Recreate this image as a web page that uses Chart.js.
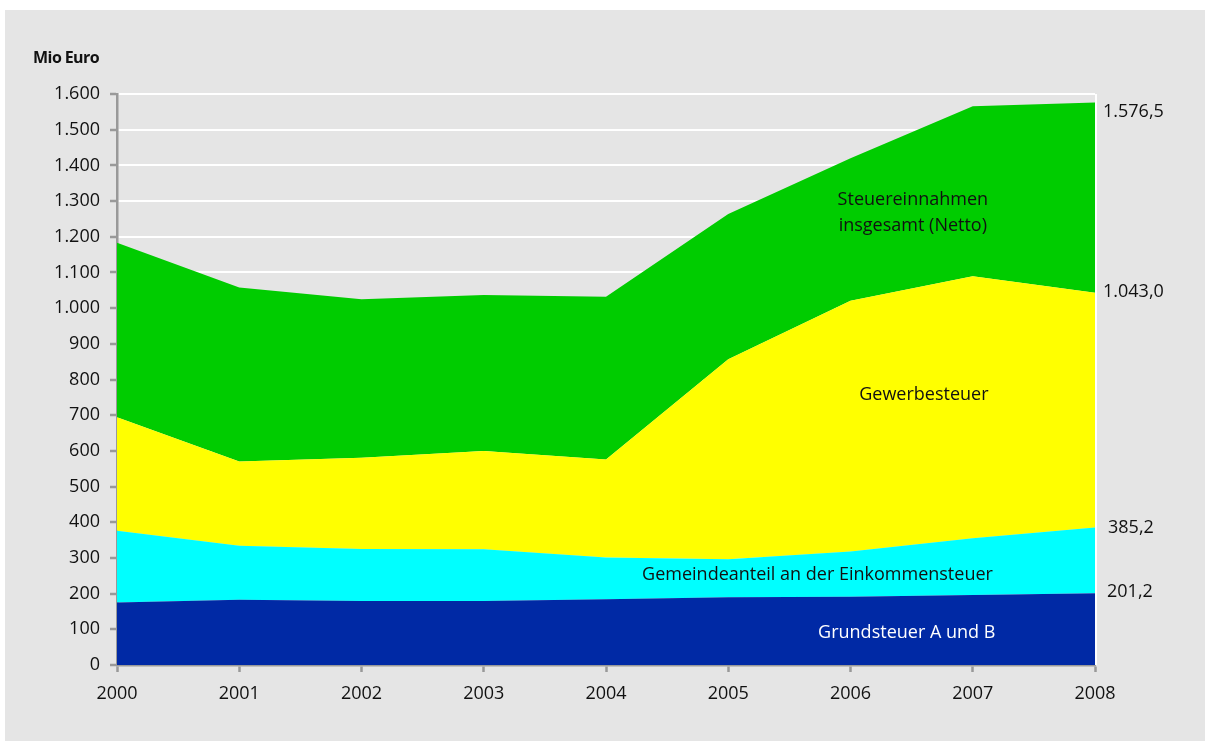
<!DOCTYPE html>
<html lang="de">
<head>
<meta charset="utf-8">
<title>Steuereinnahmen</title>
<script src="https://cdn.jsdelivr.net/npm/chart.js@4"></script>
<style>
  html, body { margin: 0; padding: 0; background: #ffffff; }
  #box {
    position: absolute; left: 5px; top: 10px;
    width: 1200px; height: 731px; background: #e5e5e5;
  }
</style>
</head>
<body>
<div id="box"><canvas id="steuer" width="1200" height="731"></canvas></div>
<script>
// Jahre (x-Achse)
const years = ["2000", "2001", "2002", "2003", "2004", "2005", "2006", "2007", "2008"];

// kumulierte Obergrenzen der Flächen, Mio Euro
const grundsteuer    = [175, 183, 179, 179, 184, 190, 191, 196, 201.2];
const einkommenTop   = [376, 334, 325, 324, 301, 296, 318, 355, 385.2];
const gewerbeTop     = [694, 570, 581, 600, 576, 857, 1021, 1089, 1043.0];
const insgesamt      = [1183, 1058, 1025, 1037, 1032, 1264, 1420, 1566, 1576.5];

const yTicks = [0, 1600, 100]; // min, max, Schritt

const fontFamily = "'Open Sans', Lato, sans-serif";

function deNum(v, dec) {
  const parts = v.toFixed(dec).split(".");
  parts[0] = parts[0].replace(/\B(?=(\d{3})+(?!\d))/g, ".");
  return parts.join(",");
}

// Beschriftungen im Diagramm und am rechten Rand
const textPlugin = {
  id: "texte",
  afterDatasetsDraw(chart) {
    const { ctx, chartArea, scales } = chart;
    const x = scales.x, y = scales.y;

    // weisse Kante rechts
    ctx.save();
    ctx.strokeStyle = "#ffffff";
    ctx.lineWidth = 2;
    ctx.beginPath();
    ctx.moveTo(chartArea.right + 1, chartArea.top);
    ctx.lineTo(chartArea.right + 1, chartArea.bottom);
    ctx.stroke();

    ctx.font = "18px " + fontFamily;
    ctx.textBaseline = "middle";
    ctx.textAlign = "center";
    ctx.fillStyle = "#111111";
    const sx = x.getPixelForValue(6.51);
    ctx.fillText("Steuereinnahmen", sx, y.getPixelForValue(1269) - 12);
    ctx.fillText("insgesamt (Netto)", sx, y.getPixelForValue(1269) + 14);
    ctx.fillText("Gewerbesteuer", x.getPixelForValue(6.6), y.getPixelForValue(757));
    ctx.fillText("Gemeindeanteil an der Einkommensteuer", x.getPixelForValue(5.73), y.getPixelForValue(253));
    ctx.fillStyle = "#ffffff";
    ctx.fillText("Grundsteuer A und B", x.getPixelForValue(6.46), y.getPixelForValue(90));

    // Endwerte rechts
    ctx.fillStyle = "#111111";
    ctx.textAlign = "left";
    const last = years.length - 1;
    const endLabels = [
      { v: insgesamt[last], dx: 8, dy: 9 },
      { v: gewerbeTop[last], dx: 8, dy: -1 },
      { v: einkommenTop[last], dx: 13, dy: 0 },
      { v: grundsteuer[last], dx: 12, dy: -1 }
    ];
    endLabels.forEach((l) => {
      ctx.fillText(deNum(l.v, 1), chartArea.right + l.dx, y.getPixelForValue(l.v) + l.dy);
    });

    // Einheit oben links
    ctx.font = "bold 16px " + fontFamily;
    ctx.letterSpacing = "-0.6px";
    ctx.textAlign = "right";
    ctx.fillText("Mio Euro", 94, 48);
    ctx.restore();
  }
};

new Chart(document.getElementById("steuer"), {
  type: "line",
  data: {
    labels: years,
    datasets: [
      { label: "Grundsteuer A und B", data: grundsteuer, backgroundColor: "#0029a5", fill: "origin" },
      { label: "Gemeindeanteil an der Einkommensteuer", data: einkommenTop, backgroundColor: "#00ffff", fill: "-1" },
      { label: "Gewerbesteuer", data: gewerbeTop, backgroundColor: "#ffff00", fill: "-1" },
      { label: "Steuereinnahmen insgesamt (Netto)", data: insgesamt, backgroundColor: "#00cc00", fill: "-1" }
    ].map((d) => Object.assign(d, { borderWidth: 0, pointRadius: 0, tension: 0 }))
  },
  options: {
    responsive: false,
    animation: false,
    layout: { padding: { top: 84, right: 110, bottom: 36, left: 0 } },
    plugins: {
      legend: { display: false },
      tooltip: { enabled: false }
    },
    scales: {
      x: {
        offset: false,
        grid: { drawOnChartArea: false, tickColor: "#999999", tickLength: 7, tickWidth: 2.5 },
        border: { color: "#999999", width: 2.5 },
        ticks: { color: "#111111", font: { family: fontFamily, size: 18 }, padding: 11, maxRotation: 0 },
        afterFit(scale) { scale.height = 40; }
      },
      y: {
        min: yTicks[0],
        max: yTicks[1],
        grid: { color: "#ffffff", lineWidth: 2, tickColor: "#999999", tickLength: 7, tickWidth: 2.5 },
        border: { color: "#999999", width: 2.5 },
        ticks: {
          stepSize: yTicks[2],
          color: "#111111",
          font: { family: fontFamily, size: 18 },
          padding: 10,
          callback: (v) => deNum(v, 0)
        },
        afterFit(scale) { scale.width = 112; }
      }
    }
  },
  plugins: [textPlugin]
});
</script>
</body>
</html>
